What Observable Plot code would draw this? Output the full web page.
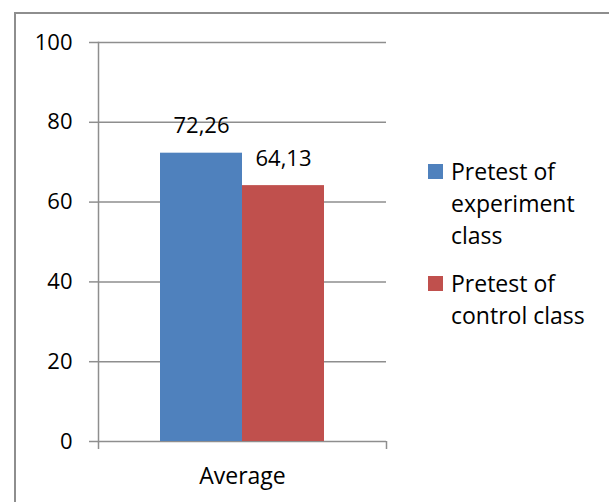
<!DOCTYPE html>
<html><head><meta charset="utf-8">
<script src="https://cdn.jsdelivr.net/npm/d3@7"></script>
<script src="https://cdn.jsdelivr.net/npm/@observablehq/plot@0.6"></script>
<style>
html,body{margin:0;padding:0;background:#fff;overflow:hidden;width:609px;height:502px;}
#chart{position:absolute;left:0;top:0;}
#border{position:absolute;left:14px;top:12px;width:700px;height:600px;border-top:2px solid #8e8e8e;border-left:2px solid #8e8e8e;pointer-events:none;}
#legend{position:absolute;left:428px;top:155px;font-family:"Open Sans";font-size:23px;line-height:32px;color:#000;}
.item{display:flex;align-items:flex-start;margin-bottom:16px;}
.sw{width:15px;height:15px;margin-top:9px;margin-right:8px;flex-shrink:0;}
.lab{width:150px;}
</style></head><body>
<div id="chart"></div><div id="border"></div><div id="legend"></div>
<script>
const categories = ["Average"];
const series = ["Pretest of experiment class", "Pretest of control class"];
const values = [72.26, 64.13];
const yTicks = [0, 20, 40, 60, 80, 100];
const colors = ["#4F81BD", "#C0504D"];

const data = series.map((s, i) => ({category: categories[0], series: s, value: values[i]}));

const W = 609, H = 502, mL = 98, mR = 223, mT = 42, mB = 61;
const plotW = W - mL - mR;
const gray = "#8e8e8e";
const fmt = d => d.toFixed(2).replace(".", ",");

const chart = Plot.plot({
  width: W, height: H, marginLeft: mL, marginRight: mR, marginTop: mT, marginBottom: mB,
  style: {fontFamily: "Open Sans", fontSize: "22px", background: "transparent", color: "#000", overflow: "visible"},
  fx: {domain: categories, padding: 0, axis: null, label: null},
  x: {domain: series, paddingInner: 0, paddingOuter: 0.75, axis: null},
  y: {domain: [0, 100], axis: null},
  color: {domain: series, range: colors},
  marks: [
    Plot.gridY(yTicks, {stroke: gray, strokeOpacity: 1, strokeWidth: 1.5}),
    Plot.axisY(yTicks, {tickSize: 9, tickPadding: 17, stroke: gray, strokeWidth: 1.5, label: null, fontSize: 22, fill: "#000"}),
    Plot.barY(data, {fx: "category", x: "series", y: "value", fill: "series"}),
    Plot.frame({anchor: "left", stroke: gray, strokeWidth: 1.5}),
    Plot.axisFx({anchor: "bottom", tickSize: 0, tickPadding: 26, label: null, fontSize: 23, fill: "#000"}),
    Plot.axisFx({anchor: "bottom", tickSize: 8, dx: -plotW / 2, text: null, stroke: gray, strokeWidth: 1.5, label: null}),
    Plot.axisFx({anchor: "bottom", tickSize: 8, dx: plotW / 2, text: null, stroke: gray, strokeWidth: 1.5, label: null}),
    Plot.text(data, {fx: "category", x: "series", y: "value", text: d => fmt(d.value), dy: -27, fontSize: 22, fill: "#000"})
  ]
});
document.getElementById("chart").appendChild(chart);

const color = chart.scale("color");
const legend = document.getElementById("legend");
series.forEach(s => {
  const item = document.createElement("div");
  item.className = "item";
  const sw = document.createElement("div");
  sw.className = "sw";
  sw.style.background = color.apply(s);
  const lab = document.createElement("div");
  lab.className = "lab";
  lab.textContent = s;
  item.appendChild(sw);
  item.appendChild(lab);
  legend.appendChild(item);
});
</script></body></html>
